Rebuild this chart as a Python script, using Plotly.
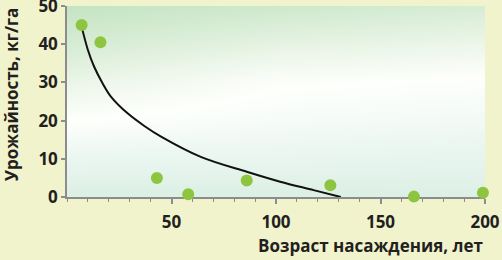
import plotly.graph_objects as go

# Data
age_years = [7, 16, 43, 58, 86, 126, 166, 199]
yield_kg_ha = [45, 40.5, 5, 0.7, 4.3, 3.1, 0.1, 1.1]

# Trend curve points
trend_x = [7, 10, 13, 17, 21, 29, 37, 45, 64, 86, 102, 118, 131]
trend_y = [44.6, 38.5, 34.1, 29.8, 26.3, 21.9, 18.6, 15.8, 10.5, 6.6, 4.0, 1.8, 0.0]

y_ticks = [0, 10, 20, 30, 40, 50]
x_ticks = [50, 100, 150, 200]
x_title = "Возраст насаждения, лет"
y_title = "Урожайность, кг/га"

# Background gradient grid (decorative)
bg_x = [0, 100, 200]
bg_y = [0, 10, 20, 30, 40, 50]
bg_z = [
    [0.08, 0.08, 0.10],
    [0.30, 0.28, 0.25],
    [0.50, 0.42, 0.38],
    [0.68, 0.52, 0.48],
    [0.86, 0.72, 0.66],
    [1.00, 0.92, 0.85],
]

FONT = "Open Sans"
DARK = "#231f20"
AXIS = "#8c8c8c"

fig = go.Figure()

fig.add_trace(go.Heatmap(
    x=bg_x, y=bg_y, z=bg_z, zsmooth="best", showscale=False, hoverinfo="skip",
    zmin=0, zmax=1,
    colorscale=[[0, "#d6ede0"], [0.3, "#eaf6f0"], [0.5, "#fefffc"],
                [0.7, "#e8f4e5"], [1, "#c5e4c3"]],
))

fig.add_trace(go.Scatter(
    x=trend_x, y=trend_y, mode="lines", line=dict(color="#111111", width=2, shape="spline", smoothing=1),
    hoverinfo="skip",
))

fig.add_trace(go.Scatter(
    x=age_years, y=yield_kg_ha, mode="markers",
    marker=dict(size=12, color="#8dc540", line=dict(width=0)),
    cliponaxis=False,
))

fig.update_layout(
    width=502, height=260,
    margin=dict(l=67, r=17, t=6, b=63, autoexpand=False),
    paper_bgcolor="#f1f3cd",
    plot_bgcolor="#eef6ee",
    showlegend=False,
    font=dict(family=FONT, color=DARK),
)

fig.update_xaxes(
    range=[0, 200], tickvals=x_ticks, ticktext=[str(v) for v in x_ticks],
    showgrid=False, zeroline=False, showline=True, linecolor=AXIS, linewidth=2,
    ticks="outside", ticklen=5, tickwidth=1.5, tickcolor=AXIS,
    minor=dict(dtick=10, ticks="outside", ticklen=3, tickcolor=AXIS, tickwidth=1, showgrid=False),
    tickfont=dict(family=FONT, size=17, color=DARK, weight="bold"),
    ticklabelstandoff=4, layer="below traces", automargin=False,
    ticklabeloverflow="allow",
)
fig.update_yaxes(
    range=[0, 50], tickvals=y_ticks, ticktext=[str(v) for v in y_ticks],
    showgrid=False, zeroline=False, showline=True, linecolor=AXIS, linewidth=1.5,
    ticks="outside", ticklen=4, tickwidth=1.5, tickcolor=AXIS,
    tickfont=dict(family=FONT, size=17, color=DARK, weight="bold"),
    layer="below traces", automargin=False, ticklabeloverflow="allow",
)

fig.add_annotation(
    text=x_title, xref="paper", yref="paper", x=1, xanchor="right",
    y=-0.255, yanchor="middle", showarrow=False,
    font=dict(family=FONT, size=17, color=DARK, weight="bold"),
)
fig.add_annotation(
    text=y_title, xref="paper", yref="paper", x=-0.133, xanchor="center",
    y=0.54, yanchor="middle", textangle=-90, showarrow=False,
    font=dict(family=FONT, size=17, color=DARK, weight="bold"),
)

fig.write_html(
    "out.html",
    config={"displayModeBar": False},
    post_script="document.body.style.margin='0';document.body.style.padding='0';document.body.style.overflow='hidden';",
)
